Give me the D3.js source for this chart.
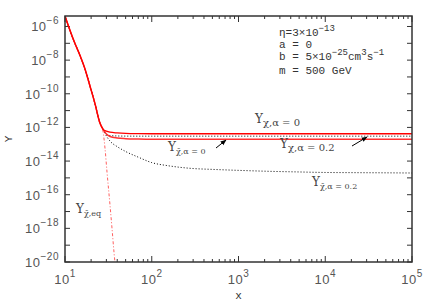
<!DOCTYPE html>
<html lang="en">
<head>
<meta charset="utf-8">
<title>Y vs x</title>
<script src="https://d3js.org/d3.v7.min.js"></script>
<style>
  body { margin: 0; background: #fff; }
  .tick-label { font-family: "Liberation Sans", sans-serif; font-size: 13px; fill: #555; letter-spacing: 0.5px; }
  .note { font-family: "Liberation Mono", monospace; font-size: 11px; fill: #333; }
  .ann { font-family: "DejaVu Serif", serif; fill: #444; }
</style>
</head>
<body>
<script>
// plot box
var w = 436, h = 305;
var m = {left: 65, right: 24, top: 16, bottom: 43};

// data
var xs = [10, 11.4, 13, 14.9, 17, 19.4, 22.2, 25.3, 27.4, 30, 33, 40, 50, 70, 100, 150, 200, 300, 500, 1000, 2000, 5000, 1e4, 2e4, 5e4, 1e5];
var head = [4.2e-6, 6.0e-7, 1.0e-7, 1.9e-8, 3.0e-9, 2.9e-10, 2.5e-11, 1.8e-12, 8.0e-13];

var yChiA0 = head.concat([6.0e-13, 5.2e-13, 4.7e-13, 4.4e-13, 4.25e-13, 4.2e-13, 4.2e-13, 4.2e-13, 4.2e-13, 4.2e-13, 4.2e-13, 4.2e-13, 4.2e-13, 4.2e-13, 4.2e-13, 4.2e-13, 4.2e-13]);
var yBarA0 = head.concat([4.1e-13, 2.9e-13, 2.35e-13, 2.15e-13, 2.05e-13, 2.0e-13, 2.0e-13, 2.0e-13, 2.0e-13, 2.0e-13, 2.0e-13, 2.0e-13, 2.0e-13, 2.0e-13, 2.0e-13, 2.0e-13, 2.0e-13]);
var yChiA02 = head.concat([3.8e-13, 3.3e-13, 3.1e-13, 3.05e-13, 3.02e-13, 3.02e-13, 3.02e-13, 3.02e-13, 3.02e-13, 3.02e-13, 3.02e-13, 3.02e-13, 3.02e-13, 3.02e-13, 3.02e-13, 3.02e-13, 3.02e-13]);
var yBarA02 = head.concat([3.1e-13, 1.55e-13, 7.2e-14, 3.7e-14, 1.7e-14, 8.1e-15, 5.4e-15, 4.4e-15, 3.6e-15, 3.2e-15, 2.8e-15, 2.5e-15, 2.25e-15, 2.1e-15, 2.05e-15, 2.0e-15, 1.95e-15]);

var xEq = [10, 11.4, 13, 14.9, 17, 19.4, 22.2, 25.3, 27.4, 28.9, 30.5, 33, 34.8, 36.7, 38.2];
var yEq = [4.2e-6, 6.0e-7, 1.0e-7, 1.9e-8, 3.0e-9, 2.9e-10, 2.5e-11, 1.8e-12, 6.0e-13, 5.9e-14, 2.2e-15, 2.5e-17, 1.05e-18, 3.9e-20, 4.4e-21];

var xMajor = [1, 2, 3, 4, 5];          // exponents of 10
var yMajor = [-20, -18, -16, -14, -12, -10, -8, -6];

var svg = d3.select("body").append("svg").attr("width", w).attr("height", h);

var x = d3.scaleLog().domain([10, 1e5]).range([m.left, w - m.right]);
var y = d3.scaleLog().domain([1e-20, 4.2e-6]).range([h - m.bottom, m.top]);

var x0 = x.range()[0], x1 = x.range()[1], y0 = y.range()[0], y1 = y.range()[1];

svg.append("clipPath").attr("id", "clip")
  .append("rect").attr("x", x0).attr("y", y1).attr("width", x1 - x0).attr("height", y0 - y1);

// ticks, all inward
var xMinor = [];
for (var k = 1; k < 5; k++) for (var j = 2; j < 10; j++) xMinor.push(j * Math.pow(10, k));
var yTicks = d3.range(-20, -5).map(function(e) { return Math.pow(10, e); });

var tk = svg.append("g").attr("stroke", "#333").attr("stroke-width", 1);
xMajor.forEach(function(e) {
  var px = x(Math.pow(10, e));
  tk.append("line").attr("x1", px).attr("x2", px).attr("y1", y0).attr("y2", y0 - 6);
  tk.append("line").attr("x1", px).attr("x2", px).attr("y1", y1).attr("y2", y1 + 6);
});
xMinor.forEach(function(v) {
  var px = x(v);
  tk.append("line").attr("x1", px).attr("x2", px).attr("y1", y0).attr("y2", y0 - 3);
  tk.append("line").attr("x1", px).attr("x2", px).attr("y1", y1).attr("y2", y1 + 3);
});
yTicks.forEach(function(v) {
  var py = y(v);
  tk.append("line").attr("x1", x0).attr("x2", x0 + 5).attr("y1", py).attr("y2", py);
  tk.append("line").attr("x1", x1).attr("x2", x1 - 5).attr("y1", py).attr("y2", py);
});

// tick labels
xMajor.forEach(function(e) {
  var t = svg.append("text").attr("class", "tick-label")
    .attr("x", x(Math.pow(10, e))).attr("y", y0 + 22).attr("text-anchor", "middle");
  t.append("tspan").text("10");
  t.append("tspan").attr("dy", -7).attr("font-size", 10).text(e);
});
yMajor.forEach(function(e) {
  var t = svg.append("text").attr("class", "tick-label")
    .attr("x", x0 - 6).attr("y", y(Math.pow(10, e)) + 5).attr("text-anchor", "end");
  t.append("tspan").text("10");
  t.append("tspan").attr("dy", -7).attr("font-size", 10).text("\u2212" + (-e));
});

// curves
var line = d3.line().x(function(d) { return x(d[0]); }).y(function(d) { return y(d[1]); })
  .curve(d3.curveMonotoneX);
var g = svg.append("g").attr("clip-path", "url(#clip)").attr("fill", "none");

g.append("path").attr("d", line(d3.zip(xEq, yEq)))
  .attr("stroke", "#ff6060").attr("stroke-width", 1).attr("stroke-dasharray", "3,2,1,2");
g.append("path").attr("d", line(d3.zip(xs, yBarA02)))
  .attr("stroke", "#000").attr("stroke-width", 1).attr("stroke-dasharray", "1,2");
g.append("path").attr("d", line(d3.zip(xs, yChiA02)))
  .attr("stroke", "#000").attr("stroke-width", 1).attr("stroke-dasharray", "1,2");
g.append("path").attr("d", line(d3.zip(xs, yBarA0)))
  .attr("stroke", "#f33").attr("stroke-width", 1.5);
g.append("path").attr("d", line(d3.zip(xs, yChiA0)))
  .attr("stroke", "#f00").attr("stroke-width", 1.3);

// frame
svg.append("rect").attr("x", x0).attr("y", y1).attr("width", x1 - x0).attr("height", y0 - y1)
  .attr("fill", "none").attr("stroke", "#333").attr("stroke-width", 1.5);

// axis titles
svg.append("text").attr("class", "note").attr("x", (x0 + x1) / 2).attr("y", 299)
  .attr("text-anchor", "middle").text("x");
svg.append("text").attr("class", "note").attr("transform", "translate(12," + ((y0 + y1) / 2) + ") rotate(-90)")
  .attr("text-anchor", "middle").text("Y");

// parameter block
var n1 = svg.append("text").attr("class", "note").attr("x", 279).attr("y", 36);
n1.append("tspan").text("\u03b7=3\u00d710");
n1.append("tspan").attr("dy", -5).attr("font-size", 9).text("\u221213");
svg.append("text").attr("class", "note").attr("x", 279).attr("y", 48).text("a = 0");
var n3 = svg.append("text").attr("class", "note").attr("x", 279).attr("y", 60);
n3.append("tspan").text("b = 5\u00d710");
n3.append("tspan").attr("dy", -5).attr("font-size", 9).text("\u221225");
n3.append("tspan").attr("dy", 5).text("cm");
n3.append("tspan").attr("dy", -5).attr("font-size", 9).text("3");
n3.append("tspan").attr("dy", 5).text("s");
n3.append("tspan").attr("dy", -5).attr("font-size", 9).text("\u22121");
svg.append("text").attr("class", "note").attr("x", 279).attr("y", 74).text("m = 500 GeV");

// curve labels
function ann(px, py, sub, fs) {
  var t = svg.append("text").attr("class", "ann").attr("x", px).attr("y", py).attr("font-size", 12);
  t.append("tspan").text("Y");
  t.append("tspan").attr("dy", 3).attr("font-size", fs).text(sub);
}
ann(255, 123, "\u03c7,\u03b1 = 0", 10);
ann(168, 151, "\u03c7\u0304,\u03b1 = 0", 8);
ann(280, 148, "\u03c7,\u03b1 = 0.2", 10);
ann(312, 186, "\u03c7\u0304,\u03b1 = 0.2", 8);
ann(76, 213, "\u03c7\u0304,eq", 8);

// arrows
svg.append("defs").append("marker").attr("id", "ah").attr("viewBox", "0 0 10 10")
  .attr("refX", 9).attr("refY", 5).attr("markerWidth", 6).attr("markerHeight", 6)
  .attr("orient", "auto").append("path").attr("d", "M0,1L10,5L0,9z").attr("fill", "#000");
svg.append("line").attr("x1", 216).attr("y1", 148).attr("x2", 226).attr("y2", 140)
  .attr("stroke", "#000").attr("stroke-width", 1).attr("marker-end", "url(#ah)");
svg.append("line").attr("x1", 352).attr("y1", 146).attr("x2", 367).attr("y2", 137)
  .attr("stroke", "#000").attr("stroke-width", 1).attr("marker-end", "url(#ah)");
</script>
</body>
</html>
